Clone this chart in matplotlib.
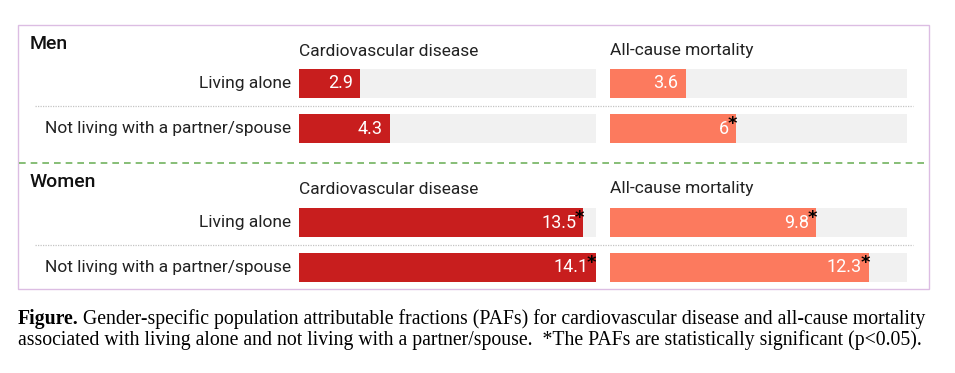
import matplotlib
matplotlib.use("Agg")
import matplotlib.pyplot as plt
from matplotlib.patches import Rectangle
from matplotlib.lines import Line2D

# ---- data ----
groups = ["Men", "Women"]
outcomes = ["Cardiovascular disease", "All-cause mortality"]
exposures = ["Living alone", "Not living with a partner/spouse"]
men_cvd = [2.9, 4.3]
men_all = [3.6, 6.0]
women_cvd = [13.5, 14.1]
women_all = [9.8, 12.3]
men_sig_cvd = [False, False]
men_sig_all = [False, True]
women_sig_cvd = [True, True]
women_sig_all = [True, True]
labels_men_cvd = ["2.9", "4.3"]
labels_men_all = ["3.6", "6"]
labels_women_cvd = ["13.5", "14.1"]
labels_women_all = ["9.8", "12.3"]
x_max = 14.1

W, H = 955, 373
fig = plt.figure(figsize=(W / 100, H / 100), dpi=100)
fig.patch.set_facecolor("white")

def fx(px):
    return px / W

def fy(py):
    return 1 - py / H

CVD_COLOR = "#c81e1e"
ALL_COLOR = "#fc7a5e"
BG_COLOR = "#f1f1f1"
SANS = ["Roboto", "DejaVu Sans"]

# frame
fig.add_artist(Rectangle((fx(18), fy(289)), fx(929) - fx(18), fy(25) - fy(289),
                         transform=fig.transFigure, fill=False,
                         edgecolor="#dcbde3", linewidth=1.0))
# green dashed separator
fig.add_artist(Line2D([fx(19), fx(928)], [fy(163), fy(163)], transform=fig.transFigure,
                      color="#72b35f", linewidth=1.2, linestyle=(0, (4, 3))))

panel_x = [(299, 596), (610, 907)]
group_rows = [(69, 143), (208, 282)]
group_title_y = [44, 182]
header_y = [51, 189]
sep_y = [106, 245]

data = {
    (0, 0): (men_cvd, labels_men_cvd, men_sig_cvd),
    (0, 1): (men_all, labels_men_all, men_sig_all),
    (1, 0): (women_cvd, labels_women_cvd, women_sig_cvd),
    (1, 1): (women_all, labels_women_all, women_sig_all),
}
colors = [CVD_COLOR, ALL_COLOR]

bar_h = 29 / 45.0
for g in range(2):
    top, bot = group_rows[g]
    fig.text(fx(30), fy(group_title_y[g]), groups[g], family=SANS, fontsize=14,
             fontweight="medium", va="center", ha="left", color="#111111")
    # dotted separator between rows
    fig.add_artist(Line2D([fx(35), fx(913)], [fy(sep_y[g]), fy(sep_y[g])],
                          transform=fig.transFigure, color="#c4c4c4",
                          linewidth=0.9, linestyle=(0, (1, 1))))
    for o in range(2):
        x0, x1 = panel_x[o]
        ax = fig.add_axes([fx(x0), fy(bot), fx(x1) - fx(x0), fy(top) - fy(bot)])
        vals, labs, sig = data[(g, o)]
        ys = list(range(len(vals)))
        ax.barh(ys, [x_max] * len(vals), height=bar_h, color=BG_COLOR, zorder=1)
        ax.barh(ys, vals, height=bar_h, color=colors[o], zorder=2, clip_on=False)
        ax.set_xlim(0, x_max)
        ax.set_ylim(len(vals) - 1 + bar_h / 2, -bar_h / 2)
        ax.axis("off")
        for yi, v, lab, s in zip(ys, vals, labs, sig):
            ax.annotate(lab, (v, yi), xytext=(-5.2, 0), textcoords="offset points",
                        ha="right", va="center", color="white", fontsize=13,
                        family=SANS, zorder=3, annotation_clip=False)
            if s:
                ax.annotate("*", (v, yi - bar_h / 2), xytext=(-3, -1),
                            textcoords="offset points", ha="center", va="top",
                            color="black", fontsize=13, fontweight="bold",
                            family=["DejaVu Sans"], zorder=4, annotation_clip=False)
        fig.text(fx(x0), fy(header_y[g]), outcomes[o], family=SANS, fontsize=12.5,
                 va="center", ha="left", color="#222222")
        if o == 0:
            for yi, lab in zip(ys, exposures):
                yc = top + 14.5 + 45 * yi
                fig.text(fx(291), fy(yc), lab, family=SANS, fontsize=12.5,
                         va="center", ha="right", color="#222222")

# caption
SERIF = ["Liberation Serif", "DejaVu Serif"]
t1 = fig.text(fx(18), fy(324), "Figure.", family=SERIF, fontsize=14.2,
              fontweight="bold", va="baseline", ha="left")
fig.canvas.draw()
bb = t1.get_window_extent()
fig.text(bb.x1 / W + fx(4), fy(324),
         "Gender-specific population attributable fractions (PAFs) for cardiovascular disease and all-cause mortality",
         family=SERIF, fontsize=14.2, va="baseline", ha="left")
fig.text(fx(18), fy(345),
         "associated with living alone and not living with a partner/spouse.  *The PAFs are statistically significant (p<0.05).",
         family=SERIF, fontsize=14.2, va="baseline", ha="left")

fig.savefig("out.png", dpi=100, facecolor="white")
